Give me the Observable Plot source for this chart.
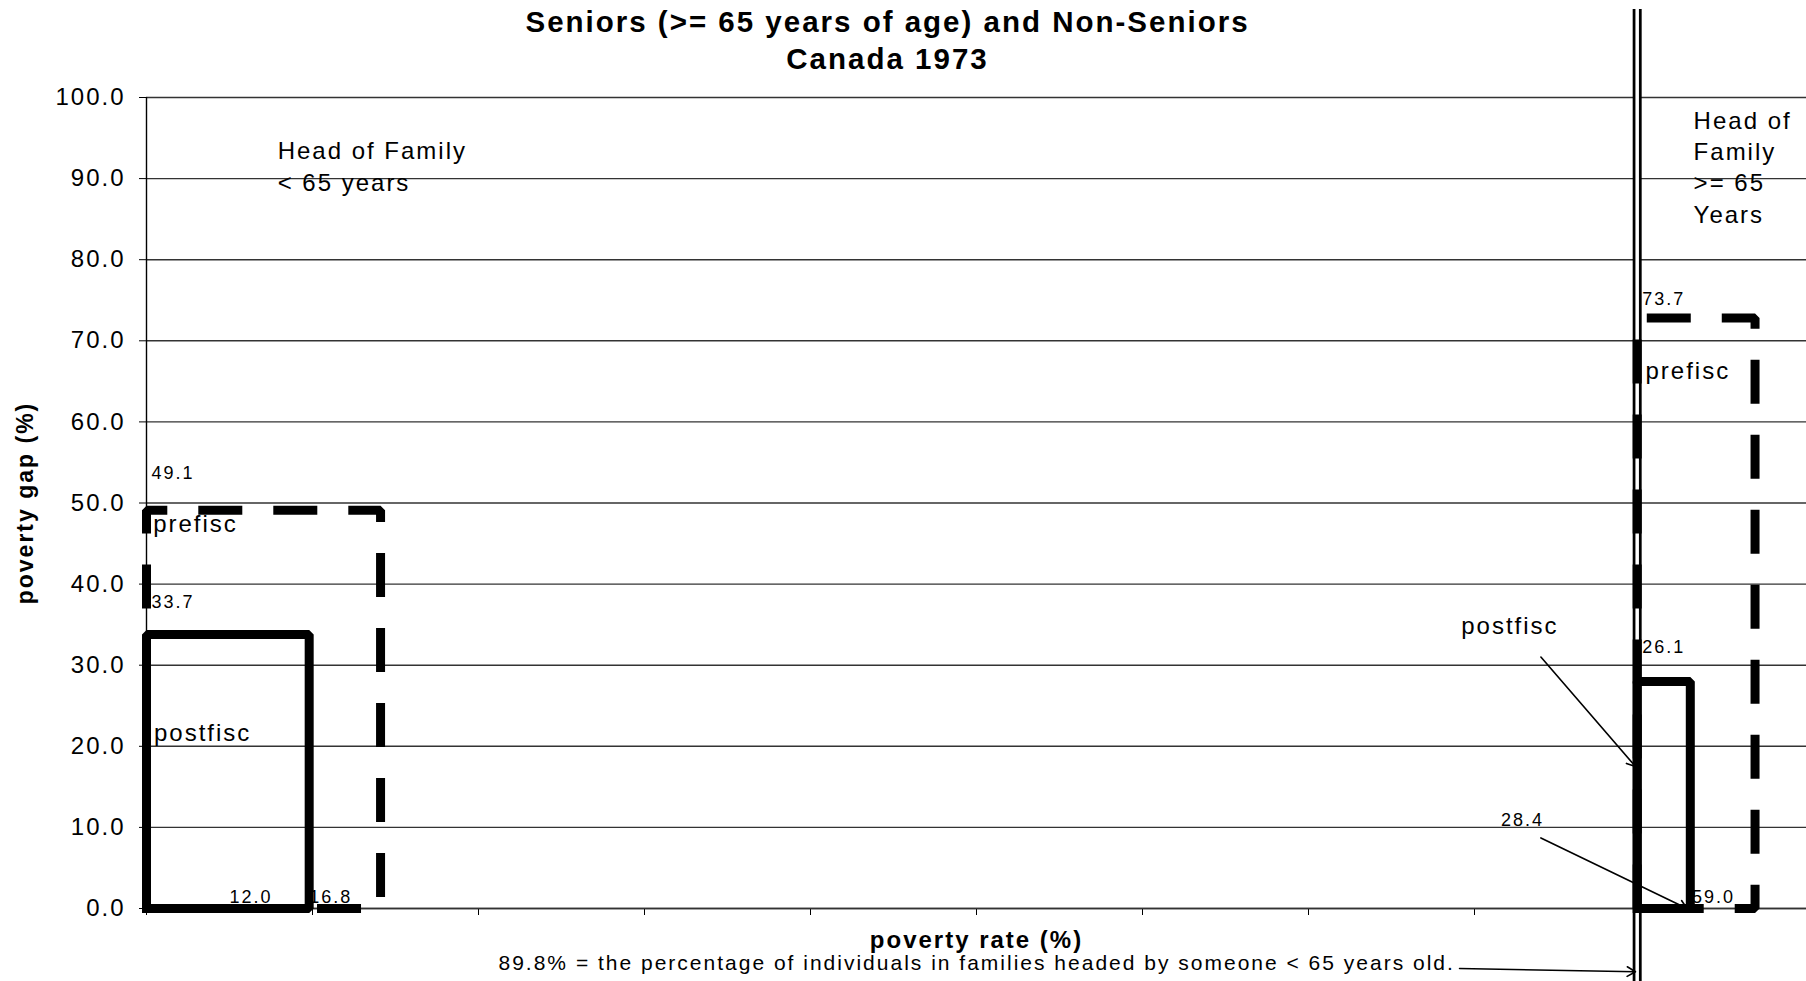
<!DOCTYPE html>
<html>
<head>
<meta charset="utf-8">
<script src="https://cdn.jsdelivr.net/npm/d3@7"></script>
<script src="https://cdn.jsdelivr.net/npm/@observablehq/plot@0.6"></script>
<style>
  html, body { margin: 0; padding: 0; background: #fff; }
  #chart svg { display: block; }
  #chart svg text { letter-spacing: 2px; }
  #chart svg g[aria-label="chart-title"] text { letter-spacing: 3px; }
  #chart svg g[aria-label="small-values"] text { letter-spacing: 1.5px; }
  #chart svg g[aria-label="small-values-mid"] text { letter-spacing: 1.5px; }
  #chart svg g[aria-label="y-title"] text { letter-spacing: 1.5px; }
  #chart svg g[aria-label="x-title"] text { letter-spacing: 2.2px; }
</style>
</head>
<body>
<div id="chart"></div>
<script>
// ---------- data ----------
const titleLines = ["Seniors (>= 65 years of age) and Non-Seniors", "Canada 1973"];
const yTitle = "poverty gap (%)";
const xTitle = "poverty rate (%)";
const caption = "89.8% = the percentage of individuals in families headed by someone < 65 years old.";

const yTicks = [0, 10, 20, 30, 40, 50, 60, 70, 80, 90, 100];
const xTicks = [0, 10, 20, 30, 40, 50, 60, 70, 80, 90, 100];

const splitShare = 89.8; // share of individuals in families with head < 65

// boxes: left edge, right edge (population-share axis), top (poverty gap)
const boxNames = ["nonsenior-postfisc", "nonsenior-prefisc", "senior-postfisc", "senior-prefisc"];
const boxKind  = ["postfisc", "prefisc", "postfisc", "prefisc"];
const boxX0    = [0, 0, 89.8, 89.8];
const boxX1    = [9.8, 14.1, 93.0, 96.9];
const boxTop   = [33.8, 49.1, 28.0, 72.8];

// value labels (small numbers) in data coordinates
const valueText = ["49.1", "33.7", "16.8", "73.7", "26.1", "28.4", "59.0"];
const valueX    = [0.3, 0.3, 9.8, 90.1, 90.1, 81.6, 93.1];
const valueY    = [53.7, 37.8, 1.4, 75.1, 32.2, 10.9, 1.4];
const midValueText = ["12.0"];
const midValueX    = [6.3];
const midValueY    = [1.4];

// series name labels
const seriesText = ["prefisc", "postfisc", "prefisc", "postfisc"];
const seriesX    = [0.4, 0.45, 90.3, 79.2];
const seriesY    = [47.4, 21.6, 66.2, 34.8];

// group labels
const groupText = ["Head of Family\n< 65 years", "Head of\nFamily\n>= 65\nYears"];
const groupX    = [7.9, 93.2];
const groupY    = [91.7, 91.6];

// arrows: from (x1,y1) to (x2,y2)
const arrowX1 = [84.0, 84.0, 79.1];
const arrowY1 = [31.0, 8.7, -7.4];
const arrowX2 = [89.7, 92.8, 89.7];
const arrowY2 = [17.5, 0.0, -7.8];

// ---------- derived tables ----------
const boxRows = boxNames.flatMap((name, i) => [
  [boxX0[i], 0], [boxX0[i], boxTop[i]], [boxX1[i], boxTop[i]], [boxX1[i], 0], [boxX0[i], 0]
].map(([x, y]) => ({name, kind: boxKind[i], x, y})));
const values = valueText.map((t, i) => ({t, x: valueX[i], y: valueY[i]}));
const midValues = midValueText.map((t, i) => ({t, x: midValueX[i], y: midValueY[i]}));
const series = seriesText.map((t, i) => ({t, x: seriesX[i], y: seriesY[i]}));
const groups = groupText.map((t, i) => ({t, x: groupX[i], y: groupY[i]}));
const arrows = arrowX1.map((x1, i) => ({x1, y1: arrowY1[i], x2: arrowX2[i], y2: arrowY2[i]}));

const font = "'Liberation Sans', Arial, Helvetica, sans-serif";

const chart = Plot.plot({
  width: 1806,
  height: 981,
  marginLeft: 146,
  marginRight: 0,
  marginTop: 97,
  marginBottom: 73,
  x: {domain: [0, 100]},
  y: {domain: [0, 100]},
  style: {fontFamily: font, fontSize: "24px", color: "#000", background: "#fff", overflow: "visible"},
  marks: [
    Plot.gridY(yTicks, {stroke: "#333", strokeOpacity: 1, strokeWidth: 1.4}),
    Plot.axisY(yTicks, {tickFormat: d => d.toFixed(1), tickSize: 7, tickPadding: 14, fontSize: 24, label: null, stroke: "#000"}),
    Plot.axisX(xTicks, {tickFormat: () => "", tickSize: 7, tickPadding: 0, label: null, stroke: "#000"}),
    Plot.ruleX([0], {stroke: "#000", strokeWidth: 1.4}),
    Plot.ruleY([0], {stroke: "#333", strokeWidth: 1.6}),
    // double divider line at 89.8%
    Plot.ruleX([splitShare], {stroke: "#000", strokeWidth: 9, insetTop: -88, insetBottom: -73}),
    Plot.ruleX([splitShare], {stroke: "#fff", strokeWidth: 3.5, insetTop: -88, insetBottom: -73}),
    // prefisc boxes (dashed)
    Plot.line(boxRows.filter(d => d.kind === "prefisc"), {
      x: "x", y: "y", z: "name", stroke: "#000", strokeWidth: 9,
      strokeDasharray: "44,31", strokeLinejoin: "miter", strokeLinecap: "butt"
    }),
    // postfisc boxes (solid)
    Plot.line(boxRows.filter(d => d.kind === "postfisc"), {
      x: "x", y: "y", z: "name", stroke: "#000", strokeWidth: 9,
      strokeLinejoin: "miter", strokeLinecap: "square"
    }),
    // annotations
    Plot.text(values, {x: "x", y: "y", text: "t", fontSize: 18, textAnchor: "start", fill: "#000", ariaLabel: "small-values"}),
    Plot.text(midValues, {x: "x", y: "y", text: "t", fontSize: 18, textAnchor: "middle", fill: "#000", ariaLabel: "small-values-mid"}),
    Plot.text(series, {x: "x", y: "y", text: "t", fontSize: 24, textAnchor: "start", fill: "#000"}),
    Plot.text(groups, {x: "x", y: "y", text: "t", textAnchor: "start", lineAnchor: "middle", lineHeight: 1.31, fontSize: 24, fill: "#000"}),
    Plot.arrow(arrows, {x1: "x1", y1: "y1", x2: "x2", y2: "y2", stroke: "#000", strokeWidth: 1.6, headLength: 9}),
    // titles
    Plot.text([titleLines[0]], {frameAnchor: "top-left", dx: 741, dy: -86, textAnchor: "middle", fontWeight: "bold", fontSize: 29.5, fill: "#000", ariaLabel: "chart-title"}),
    Plot.text([titleLines[1]], {frameAnchor: "top-left", dx: 741, dy: -49, textAnchor: "middle", fontWeight: "bold", fontSize: 29.5, fill: "#000", ariaLabel: "chart-title"}),
    Plot.text([yTitle], {frameAnchor: "left", dx: -121, rotate: -90, textAnchor: "middle", fontWeight: "bold", fontSize: 23, fill: "#000", ariaLabel: "y-title"}),
    Plot.text([xTitle], {frameAnchor: "bottom", dy: 39, textAnchor: "middle", fontWeight: "bold", fontSize: 24, fill: "#000", ariaLabel: "x-title"}),
    Plot.text([caption], {frameAnchor: "bottom-left", dx: 352, dy: 61, textAnchor: "start", fontSize: 21, fill: "#000"})
  ]
});
document.getElementById("chart").appendChild(chart);
</script>
</body>
</html>
